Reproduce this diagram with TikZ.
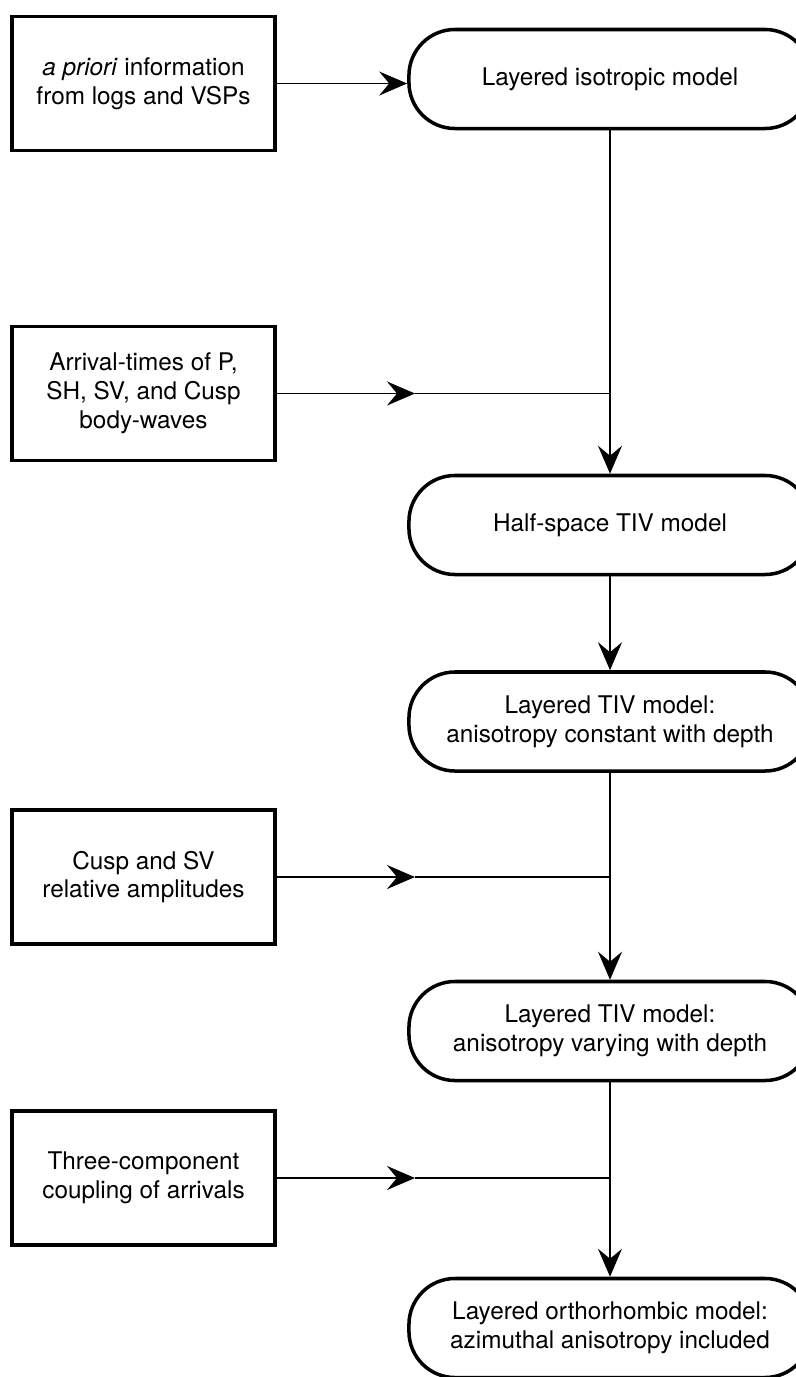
\documentclass[tikz,border=0pt]{standalone}
\usepackage{fontspec}
\setmainfont{TeX Gyre Heros}
\usetikzlibrary{arrows.meta}

\tikzset{
  every node/.style={font=\fontsize{17.3}{20.5}\selectfont},
  source/.style={draw, line width=2.8pt, minimum width=6.575cm,
    minimum height=3.35cm, align=center, inner sep=0pt},
  model/.style={draw, line width=2.5pt, rounded corners=1.15cm,
    minimum width=10.05cm, minimum height=2.475cm, align=center, inner sep=0pt},
  link/.style={line width=1pt},
  tip/.style={link, -{Stealth[length=0.7cm,width=0.6cm,inset=0.25cm]}},
}

\begin{document}
\begin{tikzpicture}[x=0.025cm, y=-0.025cm]
      \useasboundingbox (0,0) rectangle (796,1377);
      % data that goes in
      \node[source] (box1) at (143.5,83.5) {\textit{a priori} information\\from logs and VSPs};
      \node[source] (box2) at (143.5,393.5) {Arrival-times of P,\\SH, SV, and Cusp\\body-waves};
      \node[source] (box3) at (143.5,877) {Cusp and SV\\relative amplitudes};
      \node[source] (box4) at (143.5,1178) {Three-component\\coupling of arrivals};
      % models, top to bottom
      \node[model] (model1) at (610,79) {Layered isotropic model};
      \node[model] (model2) at (610,525) {Half-space TIV model};
      \node[model] (model3) at (610,721.5) {Layered TIV model:\\anisotropy constant with depth};
      \node[model] (model4) at (610,1031) {Layered TIV model:\\anisotropy varying with depth};
      \node[model] (model5) at (610,1328) {Layered orthorhombic model:\\azimuthal anisotropy included};
      \begin{scope}
        \draw[tip] (box1.east) -- (box1.east -| model1.west);
        \draw[tip] (model1) -- (model2);
        \draw[tip] (model2) -- (model3);
        \draw[tip] (model3) -- (model4);
        \draw[tip] (model4) -- (model5);
        \draw[tip] (box2.east) -- ++(138,0) coordinate (m2);
        \draw[link] (m2) -- (box2.east -| model1.south);
        \draw[tip] (box3.east) -- ++(138,0) coordinate (m3);
        \draw[link] (m3) -- (box3.east -| model3.south);
        \draw[tip] (box4.east) -- ++(138,0) coordinate (m4);
        \draw[link] (m4) -- (box4.east -| model4.south);
      \end{scope}
    \end{tikzpicture}
\end{document}
